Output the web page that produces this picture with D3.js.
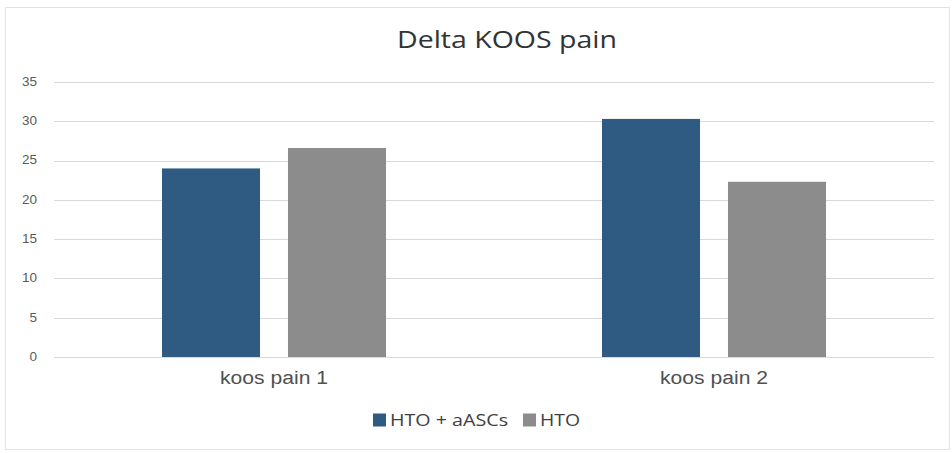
<!DOCTYPE html>
<html>
<head>
<meta charset="utf-8">
<script src="https://cdn.jsdelivr.net/npm/d3@7/dist/d3.min.js"></script>
<style>
  html, body { margin: 0; padding: 0; background: #fff; }
  svg { display: block; font-family: "Open Sans", "Noto Sans", sans-serif; }
</style>
</head>
<body>
<svg id="chart" width="952" height="453"></svg>
<script>
// Chart data
const categories = ["koos pain 1", "koos pain 2"];
const seriesNames = ["HTO + aASCs", "HTO"];
const seriesColors = ["#2f5b82", "#8c8c8c"];
const htoAascs = [24.0, 30.3];
const hto = [26.6, 22.3];
const yTicks = [0, 5, 10, 15, 20, 25, 30, 35];
const titleText = "Delta KOOS pain";

const seriesValues = [htoAascs, hto];

const svg = d3.select("#chart");
const W = 952;

// outer chart frame
svg.append("rect")
  .attr("x", 5.5).attr("y", 7.5)
  .attr("width", W - 8).attr("height", 442)
  .attr("fill", "#fff")
  .attr("stroke", "#e2e2e2").attr("stroke-width", 1);

const plot = { left: 54, right: 934, top: 82, bottom: 357 };

const x = d3.scaleBand()
  .domain(categories)
  .range([plot.left, plot.right])
  .paddingInner(0).paddingOuter(0);

// two bars per category: bar 98px, gap 28px, outer margin 108px
const xInner = d3.scaleBand()
  .domain(seriesNames)
  .range([0, x.bandwidth()])
  .paddingInner(0.222)
  .paddingOuter(0.857);

const y = d3.scaleLinear()
  .domain([0, 35])
  .range([plot.bottom, plot.top]);

// gridlines
svg.append("g")
  .selectAll("line")
  .data(yTicks)
  .join("line")
  .attr("x1", plot.left).attr("x2", plot.right)
  .attr("y1", d => Math.round(y(d)) + 0.5)
  .attr("y2", d => Math.round(y(d)) + 0.5)
  .attr("stroke", "#d9d9d9").attr("stroke-width", 1.2);

// y axis labels
const yAxis = d3.axisLeft(y).tickValues(yTicks).tickSize(0).tickPadding(0);
const yg = svg.append("g")
  .attr("transform", `translate(${plot.left - 17},-1)`)
  .call(yAxis);
yg.select(".domain").remove();
yg.selectAll("text")
  .attr("fill", "#5a5a5a")
  .style("font-size", "13.5px");

// bars
const groups = svg.append("g")
  .selectAll("g")
  .data(categories)
  .join("g")
  .attr("transform", d => `translate(${x(d)},0)`);

groups.selectAll("rect")
  .data((d, i) => seriesNames.map((s, j) => ({ s, v: seriesValues[j][i], j })))
  .join("rect")
  .attr("x", d => xInner(d.s))
  .attr("width", xInner.bandwidth())
  .attr("y", d => y(d.v))
  .attr("height", d => y(0) - y(d.v))
  .attr("fill", d => seriesColors[d.j]);

// x axis labels
const xAxis = d3.axisBottom(x).tickSize(0).tickPadding(0);
const xg = svg.append("g")
  .attr("transform", `translate(0,384)`)
  .call(xAxis);
xg.select(".domain").remove();
xg.selectAll("text")
  .attr("y", 0).attr("dy", 0)
  .attr("fill", "#505050")
  .style("font-size", "18px")
  .attr("textLength", 108)
  .attr("lengthAdjust", "spacingAndGlyphs");

// title
svg.append("text")
  .attr("x", 507).attr("y", 48)
  .attr("text-anchor", "middle")
  .attr("fill", "#333")
  .style("font-size", "23px")
  .attr("textLength", 220)
  .attr("lengthAdjust", "spacingAndGlyphs")
  .text(titleText);

// legend
const legend = svg.append("g").attr("transform", "translate(373,420)");
const legendItems = [
  { name: seriesNames[0], color: seriesColors[0], dx: 0, len: 118 },
  { name: seriesNames[1], color: seriesColors[1], dx: 150, len: 40 }
];
const li = legend.selectAll("g").data(legendItems).join("g")
  .attr("transform", d => `translate(${d.dx},0)`);
li.append("rect")
  .attr("x", 0).attr("y", -6.5)
  .attr("width", 13).attr("height", 13)
  .attr("fill", d => d.color);
li.append("text")
  .attr("x", 17).attr("y", 6)
  .attr("fill", "#404040")
  .style("font-size", "17px")
  .attr("textLength", d => d.len)
  .attr("lengthAdjust", "spacingAndGlyphs")
  .text(d => d.name);
</script>
</body>
</html>
